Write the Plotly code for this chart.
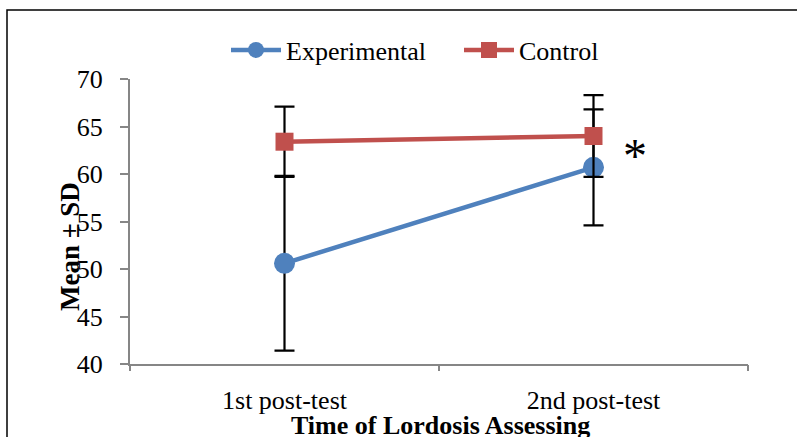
import plotly.graph_objects as go

categories = ["1st post-test", "2nd post-test"]
exp_mean = [50.6, 60.7]
exp_sd = [9.2, 6.1]
ctrl_mean = [63.4, 64.0]
ctrl_sd = [3.7, 4.3]
y_ticks = [40, 45, 50, 55, 60, 65, 70]

xpos = list(range(len(categories)))
BLUE = "#4F81BD"
RED = "#C0504D"
FONT = "Liberation Serif"

W, H = 797, 437
L, T = 130, 79
R, B = W - 748, H - 364
PW, PH = W - L - R, H - T - B


def px_x(x):
    return (x - L) / PW


def px_y(y):
    return (H - B - y) / PH


fig = go.Figure()
fig.add_trace(go.Scatter(
    x=xpos, y=exp_mean, name="Experimental", mode="lines+markers",
    line=dict(color=BLUE, width=4.5),
    marker=dict(symbol="circle", size=21, color=BLUE),
    error_y=dict(type="data", array=exp_sd, color="black", thickness=2.2, width=10),
))
fig.add_trace(go.Scatter(
    x=xpos, y=ctrl_mean, name="Control", mode="lines+markers",
    line=dict(color=RED, width=4.5),
    marker=dict(symbol="square", size=18, color=RED),
    error_y=dict(type="data", array=ctrl_sd, color="black", thickness=2.2, width=10),
))

# category boundary ticks on an overlaid axis
fig.add_trace(go.Scatter(x=[-0.5, 1.5], y=[None, None], xaxis="x2", showlegend=False,
                         hoverinfo="skip", mode="markers"))

fig.add_annotation(x=1.135, y=62.7, xref="x", yref="y", text="*", showarrow=False,
                   font=dict(family=FONT, size=48, color="black"), yshift=-7)

# y title
fig.add_annotation(xref="paper", yref="paper", x=px_x(70), y=px_y(247),
                   xanchor="center", yanchor="middle",
                   text="<b>Mean ± SD</b>", showarrow=False, textangle=-90,
                   font=dict(family=FONT, size=27, color="black"))
# x title
fig.add_annotation(xref="paper", yref="paper", x=px_x(440), y=px_y(425),
                   xanchor="center", yanchor="middle",
                   text="<b>Time of Lordosis Assessing</b>", showarrow=False,
                   font=dict(family=FONT, size=26, color="black"))

# outer border
fig.add_shape(type="rect", xref="paper", yref="paper",
              x0=px_x(7), x1=1.3, y0=-0.4, y1=px_y(10),
              line=dict(color="black", width=1.5))

fig.update_layout(
    width=W, height=H,
    margin=dict(l=L, r=R, t=T, b=B, autoexpand=False),
    paper_bgcolor="white", plot_bgcolor="white",
    font=dict(family=FONT, size=20, color="black"),
    showlegend=True,
    legend=dict(orientation="h", x=226 / W, xanchor="left", xref="container",
                y=1 - 50 / H, yanchor="middle", yref="container",
                font=dict(family=FONT, size=26, color="black"), itemwidth=50,
                entrywidth=168, entrywidthmode="pixels",
                bgcolor="rgba(0,0,0,0)"),
    xaxis=dict(range=[-0.5, 1.5], tickmode="array", tickvals=xpos, ticktext=categories,
               showline=True, linecolor="#868686", linewidth=2, ticks="", showgrid=False,
               zeroline=False, tickfont=dict(family=FONT, size=26), automargin=False,
               ticklabelstandoff=12),
    xaxis2=dict(range=[-0.5, 1.5], overlaying="x", tickmode="array", tickvals=[-0.5, 0.5, 1.5],
                showticklabels=False, ticks="outside", ticklen=6, tickwidth=2, tickcolor="#868686",
                showgrid=False, zeroline=False, side="bottom", anchor="y", automargin=False),
    yaxis=dict(range=[40, 70], tickmode="array", tickvals=y_ticks,
               showline=True, linecolor="#868686", linewidth=2, ticks="outside", ticklen=8,
               tickwidth=2, tickcolor="#868686", showgrid=False, zeroline=False,
               tickfont=dict(family=FONT, size=26), automargin=False,
               ticklabelstandoff=12),
)

fig.write_html("out.html", config={"displayModeBar": False},
               post_script="document.body.style.margin='0px';")
